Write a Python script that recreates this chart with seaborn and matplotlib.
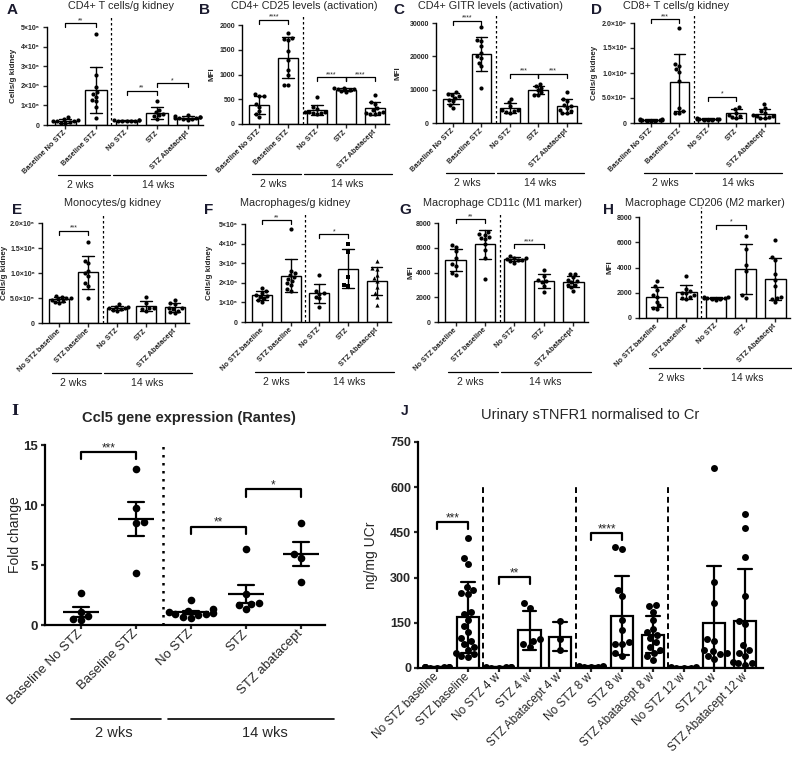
import matplotlib
matplotlib.use("Agg")
import matplotlib.pyplot as plt
import numpy as np
import pandas as pd
import seaborn as sns

# ---- data ----
CATS_AD = ["Baseline No STZ", "Baseline STZ", "No STZ", "STZ", "STZ Abatacept"]
CATS_EH = ["No STZ baseline", "STZ baseline", "No STZ", "STZ", "STZ Abatacept"]
CATS_I = ["Baseline No STZ", "Baseline STZ", "No STZ", "STZ", "STZ abatacept"]
CATS_J = ["No STZ baseline", "STZ baseline", "No STZ 4 w", "STZ 4 w", "STZ Abatacept 4 w",
          "No STZ 8 w", "STZ 8 w", "STZ Abatacept 8 w", "No STZ 12 w", "STZ 12 w",
          "STZ Abatacept 12 w"]

# cells/g kidney in millions
A_CD4 = [
    [0.10, 0.15, 0.18, 0.20, 0.22, 0.25, 0.30, 0.40, 0.12],
    [4.65, 2.55, 1.95, 1.70, 1.60, 1.45, 1.30, 1.20, 0.90, 0.35],
    [0.18, 0.20, 0.21, 0.22, 0.23, 0.24, 0.25, 0.20],
    [1.25, 0.75, 0.65, 0.55, 0.45, 0.30, 0.50],
    [0.28, 0.30, 0.33, 0.35, 0.35, 0.38, 0.40, 0.42, 0.45, 0.50],
]
B_CD25 = [
    [600, 570, 560, 400, 350, 260, 200, 150],
    [1840, 1740, 1720, 1700, 1480, 1300, 1100, 980, 790, 780],
    [540, 350, 300, 250, 250, 230, 220, 240, 200],
    [700, 720, 680, 660, 710, 650, 730],
    [590, 450, 400, 320, 280, 250, 230, 210, 200, 220],
]
C_GITR = [
    [9200, 8800, 8500, 8000, 7600, 7000, 6500, 5500, 4500],
    [28700, 25000, 24500, 23000, 21000, 20000, 19500, 18000, 17000, 10500],
    [7200, 6200, 5000, 4000, 3800, 3500, 3200, 3000],
    [11800, 11000, 10500, 9800, 9200, 8500, 8300],
    [9200, 7200, 6500, 5500, 5000, 4500, 4000, 3500, 3000, 3000],
]
D_CD8 = [
    [0.04, 0.05, 0.06, 0.07, 0.08, 0.09, 0.05, 0.06, 0.07],
    [1.90, 1.18, 1.15, 1.08, 1.02, 0.85, 0.30, 0.20, 0.20, 0.25],
    [0.06, 0.07, 0.08, 0.09, 0.10, 0.08, 0.07, 0.09],
    [0.32, 0.28, 0.20, 0.15, 0.12, 0.10, 0.17],
    [0.38, 0.30, 0.25, 0.20, 0.15, 0.12, 0.10, 0.16, 0.14, 0.10],
]
E_MONO = [
    [0.55, 0.53, 0.50, 0.48, 0.45, 0.42, 0.40, 0.47, 0.50],
    [1.63, 1.25, 1.20, 1.05, 1.00, 0.95, 0.80, 0.75, 0.50],
    [0.38, 0.33, 0.30, 0.28, 0.27, 0.25, 0.30, 0.32],
    [0.52, 0.40, 0.30, 0.28, 0.25, 0.30],
    [0.47, 0.40, 0.38, 0.30, 0.28, 0.25, 0.22, 0.30, 0.20],
]
F_MACRO = [
    [1.75, 1.60, 1.50, 1.40, 1.30, 1.20, 1.10, 1.00, 1.35],
    [4.75, 2.60, 2.50, 2.40, 2.30, 2.20, 2.10, 2.00, 1.90, 1.70, 1.60],
    [2.40, 1.60, 1.50, 1.45, 1.30, 1.20, 0.75],
    [4.00, 3.55, 2.30, 1.90, 1.85],
    [3.10, 2.75, 2.70, 2.40, 2.25, 2.10, 1.80, 1.50, 1.30, 0.85],
]
G_CD11C = [
    [6200, 6050, 5700, 5200, 4700, 4500, 4000, 3800],
    [7300, 7100, 7050, 6900, 6800, 6700, 6300, 5800, 5200, 3500],
    [5300, 5200, 5100, 5050, 5000, 4900, 4800, 5150],
    [4200, 3700, 3400, 3200, 2900, 2400, 3300],
    [3900, 3850, 3600, 3400, 3300, 3200, 3000, 2800, 2500, 3000],
]
H_CD206 = [
    [2950, 2500, 2200, 1800, 1700, 1300, 1000, 800, 700],
    [3350, 2300, 2100, 2000, 1950, 1800, 1700, 1600, 1500],
    [1700, 1650, 1600, 1550, 1500, 1450, 1550, 1480],
    [6500, 5500, 4200, 3700, 1800, 1600],
    [6150, 4800, 4600, 3500, 3000, 2500, 1700, 1600, 1500, 1300],
]
I_CCL5 = [
    [2.7, 1.1, 0.75, 0.5, 0.45],
    [13.0, 9.75, 8.6, 8.5, 4.3],
    [2.1, 1.3, 1.2, 1.1, 1.0, 0.95, 0.9, 0.8, 0.7, 0.6],
    [6.3, 2.6, 1.8, 1.75, 1.65, 1.3],
    [8.5, 5.9, 5.6, 3.6],
]
J_STNFR1 = [
    [1, 2, 3, 2, 1, 3, 2, 4],
    [430, 365, 345, 270, 260, 250, 245, 185, 180, 160, 140, 120, 100, 90, 80, 70, 60, 50,
     45, 40, 35],
    [1, 2, 3, 2, 1, 2],
    [215, 200, 95, 90, 80, 70],
    [155, 95, 60],
    [2, 3, 5, 8, 2, 3, 4],
    [400, 395, 260, 240, 160, 125, 85, 80, 78, 50, 40],
    [210, 205, 185, 160, 130, 120, 110, 100, 85, 70, 60, 50, 40, 25],
    [1, 2, 1, 2, 1],
    [665, 285, 215, 95, 90, 60, 55, 50, 45, 30, 40],
    [510, 465, 370, 240, 155, 145, 75, 60, 40, 15, 15, 10, 20, 50],
]

# significance brackets: (group i, group j, height, label)
A_SIG = [(0, 1, 5.2, "**"), (2, 3, 1.75, "**"), (3, 4, 2.15, "*")]
B_SIG = [(0, 1, 2110, "****"), (2, 3, 950, "****"), (3, 4, 950, "****")]
C_SIG = [(0, 1, 30700, "****"), (2, 3, 14800, "***"), (3, 4, 14800, "***")]
D_SIG = [(0, 1, 2.08, "***"), (2, 3, 0.53, "*")]
E_SIG = [(0, 1, 1.85, "***")]
F_SIG = [(0, 1, 5.2, "**"), (2, 3, 4.5, "*")]
G_SIG = [(0, 1, 8300, "**"), (2, 3, 6300, "****")]
H_SIG = [(2, 3, 7400, "*")]
I_SIG = [(0, 1, 14.4, "***"), (2, 3, 8.2, "**"), (3, 4, 11.3, "*")]
J_SIG = [(0, 1, 483, "***"), (2, 3, 302, "**"), (5, 6, 447, "****")]

CELL5_LABELS = ["0", "1×10⁶", "2×10⁶", "3×10⁶", "4×10⁶", "5×10⁶"]
CELL2_LABELS = ["0", "5.0×10⁵", "1.0×10⁶", "1.5×10⁶", "2.0×10⁶"]

W, H = 792, 771

sns.set_style("ticks")
plt.rcParams["font.family"] = ["Liberation Sans", "DejaVu Sans"]
plt.rcParams["axes.edgecolor"] = "black"

fig = plt.figure(figsize=(W / 100, H / 100), dpi=100)


def add_box(l, t, r, b):
    ax = fig.add_axes([l / W, 1 - b / H, (r - l) / W, (b - t) / H])
    ax.px = (l, t, r, b)
    return ax


def px_text(x, y, s, **kw):
    fig.text(x / W, 1 - y / H, s, **kw)


def long_df(values, cats):
    return pd.DataFrame({
        "group": [c for c, v in zip(cats, values) for _ in v],
        "value": [x for v in values for x in v],
    })


def brackets(ax, sig, arm, fs, lw):
    for i, j, y, lab in sig:
        ax.plot([i, i, j, j], [y - arm, y, y, y - arm], color="black", lw=lw, clip_on=False)
        ax.text((i + j) / 2, y - arm * 0.3, lab, ha="center", va="bottom", fontsize=fs,
                clip_on=False)


def groups(ax, spans, off_line, off_text, fs, lw):
    l, t, r, b = ax.px
    h = b - t
    tr = ax.get_xaxis_transform()
    for x0, x1, xc, lab in spans:
        ax.plot([x0, x1], [-off_line / h] * 2, color="black", lw=lw, transform=tr,
                clip_on=False)
        ax.text(xc, -off_text / h, lab, ha="center", va="center", fontsize=fs,
                transform=tr)


def style_axes(ax, cats, xlim, ymax, yticks, yticklabels, fs_x, fs_y, weight_x,
               ylabel, fs_lab, lab_dx, lw, lab_weight="bold"):
    ax.set_xlim(*xlim)
    ax.set_ylim(0, ymax)
    ax.set_xticks(range(len(cats)), cats, rotation=45, ha="right", va="center",
                  rotation_mode="anchor", fontsize=fs_x, fontweight=weight_x)
    ax.set_yticks(yticks, yticklabels, fontsize=fs_y, fontweight="bold")
    ax.tick_params(width=lw, length=3, pad=2)
    ax.set_xlabel("")
    ax.set_ylabel(ylabel, fontsize=fs_lab, fontweight=lab_weight)
    l, t, r, b = ax.px
    ax.yaxis.set_label_coords(-lab_dx / (r - l), 0.5)
    for s in ["left", "bottom"]:
        ax.spines[s].set_linewidth(lw)
    sns.despine(ax=ax)


def bar_panel(ax, values, cats, ymax, yticks, yticklabels, ylabel, lab_dx, sig,
              markers=None):
    df = long_df(values, cats)
    sns.barplot(data=df, x="group", y="value", order=cats, errorbar="sd", capsize=0.4,
                width=0.7, color="white", edgecolor="black", linewidth=1.0,
                err_kws={"color": "black", "linewidth": 1.0}, ax=ax)
    markers = markers or ["o"] * len(cats)
    for m in dict.fromkeys(markers):
        sub = df[df["group"].isin([c for c, mk in zip(cats, markers) if mk == m])]
        sns.swarmplot(data=sub, x="group", y="value", order=cats, marker=m,
                      color="black", size=3.0, warn_thresh=1, zorder=3, ax=ax)
    style_axes(ax, cats, (-0.6, 4.5), ymax, yticks, yticklabels, 5.3, 5.0, "bold",
               ylabel, 5.8, lab_dx, 1.0)
    ax.axvline(1.5, 0, 1.1, color="black", lw=0.9, ls=(0, (2, 2)), clip_on=False)
    brackets(ax, sig, ymax * 0.04, 5.0, 0.9)
    groups(ax, [(-0.25, 1.45, 0.5, "2 wks"), (1.55, 4.6, 3.05, "14 wks")],
           50, 60, 7.5, 0.9)


# ---- top rows A-H ----
panels = [
    ("A", "CD4+ T cells/g kidney", (47, 27, 203, 125), A_CD4, CATS_AD, 5,
     range(6), CELL5_LABELS, "Cells/g kidney", 30, A_SIG, (12, 10), 121, None),
    ("B", "CD4+ CD25 levels (activation)", (242, 25, 389, 124), B_CD25, CATS_AD, 2000,
     [0, 500, 1000, 1500, 2000], None, "MFI", 27, B_SIG, (205, 10), 304, None),
    ("C", "CD4+ GITR levels (activation)", (436, 23, 581, 123), C_GITR, CATS_AD, 30000,
     [0, 10000, 20000, 30000], None, "MFI", 34, C_SIG, (399, 10), 490, None),
    ("D", "CD8+ T cells/g kidney", (634, 23, 779, 123), D_CD8, CATS_AD, 2.0,
     [0, 0.5, 1.0, 1.5, 2.0], CELL2_LABELS, "Cells/g kidney", 36, D_SIG, (597, 10), 676,
     None),
    ("E", "Monocytes/g kidney", (42, 223, 189, 323), E_MONO, CATS_EH, 2.0,
     [0, 0.5, 1.0, 1.5, 2.0], CELL2_LABELS, "Cells/g kidney", 34, E_SIG, (17, 210), 112,
     None),
    ("F", "Macrophages/g kidney", (245, 224, 391, 322), F_MACRO, CATS_EH, 5,
     range(6), CELL5_LABELS, "Cells/g kidney", 32, F_SIG, (209, 210), 295,
     ["o", "o", "o", "s", "^"]),
    ("G", "Macrophage CD11c (M1 marker)", (438, 223, 588, 322), G_CD11C, CATS_EH, 8000,
     [0, 2000, 4000, 6000, 8000], None, "MFI", 23, G_SIG, (405, 210), 502, None),
    ("H", "Macrophage CD206 (M2 marker)", (639, 217, 790, 318), H_CD206, CATS_EH, 8000,
     [0, 2000, 4000, 6000, 8000], None, "MFI", 25, H_SIG, (608, 210), 705, None),
]

for (letter, title, box, vals, cats, ymax, yt, ytl, ylab, ldx, sig, lpos, tx,
     mk) in panels:
    ax = add_box(*box)
    yt = list(yt)
    ytl = ytl if ytl is not None else [str(v) for v in yt]
    bar_panel(ax, vals, cats, ymax, yt, ytl, ylab, ldx, sig, mk)
    px_text(lpos[0], lpos[1], letter, fontsize=11, fontweight="bold", ha="center",
            va="center", color="#1a1a2e")
    ty = 6 if box[1] < 100 else 203
    px_text(tx, ty, title, fontsize=7.8, ha="center", va="center")

# ---- panel I ----
axI = add_box(45, 445, 325, 625)
dfI = long_df(I_CCL5, CATS_I)
sns.swarmplot(data=dfI, x="group", y="value", order=CATS_I, color="black", size=5.5,
              warn_thresh=1, zorder=3, ax=axI)
sns.pointplot(data=dfI, x="group", y="value", order=CATS_I, errorbar="se", capsize=0.3,
              color="black", markers="_", linestyle="none", markersize=26,
              markeredgewidth=1.6, err_kws={"linewidth": 1.6}, ax=axI)
style_axes(axI, CATS_I, (-0.65, 4.44), 15, [0, 5, 10, 15], ["0", "5", "10", "15"],
           9.5, 9.5, "normal", "Fold change", 10, 23, 1.6, lab_weight="normal")
axI.axvline(1.5, 0, 1, color="black", lw=1.8, ls=(0, (1, 2.2)))
brackets(axI, I_SIG, 0.6, 8.5, 1.6)
groups(axI, [(-0.17, 1.46, 0.6, "2 wks"), (1.59, 4.6, 3.35, "14 wks")], 94, 108, 10.5, 1.2)
px_text(15, 411, "I", fontsize=11, fontweight="bold", ha="center", va="center",
        family="DejaVu Serif", color="#1a1a2e")
px_text(189, 418, "Ccl5 gene expression (Rantes)", fontsize=10.5, fontweight="bold",
        ha="center", va="center")

# ---- panel J ----
axJ = add_box(418, 442, 763, 668)
dfJ = long_df(J_STNFR1, CATS_J)
sns.barplot(data=dfJ, x="group", y="value", order=CATS_J, errorbar="sd", capsize=0.45,
            width=0.72, color="white", edgecolor="black", linewidth=1.6,
            err_kws={"color": "black", "linewidth": 1.6}, ax=axJ)
sns.swarmplot(data=dfJ, x="group", y="value", order=CATS_J, color="black", size=5,
              warn_thresh=1, zorder=3, ax=axJ)
style_axes(axJ, CATS_J, (-0.62, 10.58), 750, [0, 150, 300, 450, 600, 750],
           ["0", "150", "300", "450", "600", "750"], 8.5, 9, "normal", "ng/mg UCr",
           10, 40, 1.6, lab_weight="normal")
for xv in [1.5, 4.5, 7.5]:
    axJ.axvline(xv, 0, 0.8, color="black", lw=1.4, ls=(0, (3, 2)))
brackets(axJ, J_SIG, 22, 8.5, 1.6)
px_text(405, 411, "J", fontsize=10, fontweight="bold", ha="center", va="center",
        color="#1a1a2e")
px_text(590, 415, "Urinary sTNFR1 normalised to Cr", fontsize=10.5, ha="center",
        va="center")

fig.savefig("out.png", dpi=100)
